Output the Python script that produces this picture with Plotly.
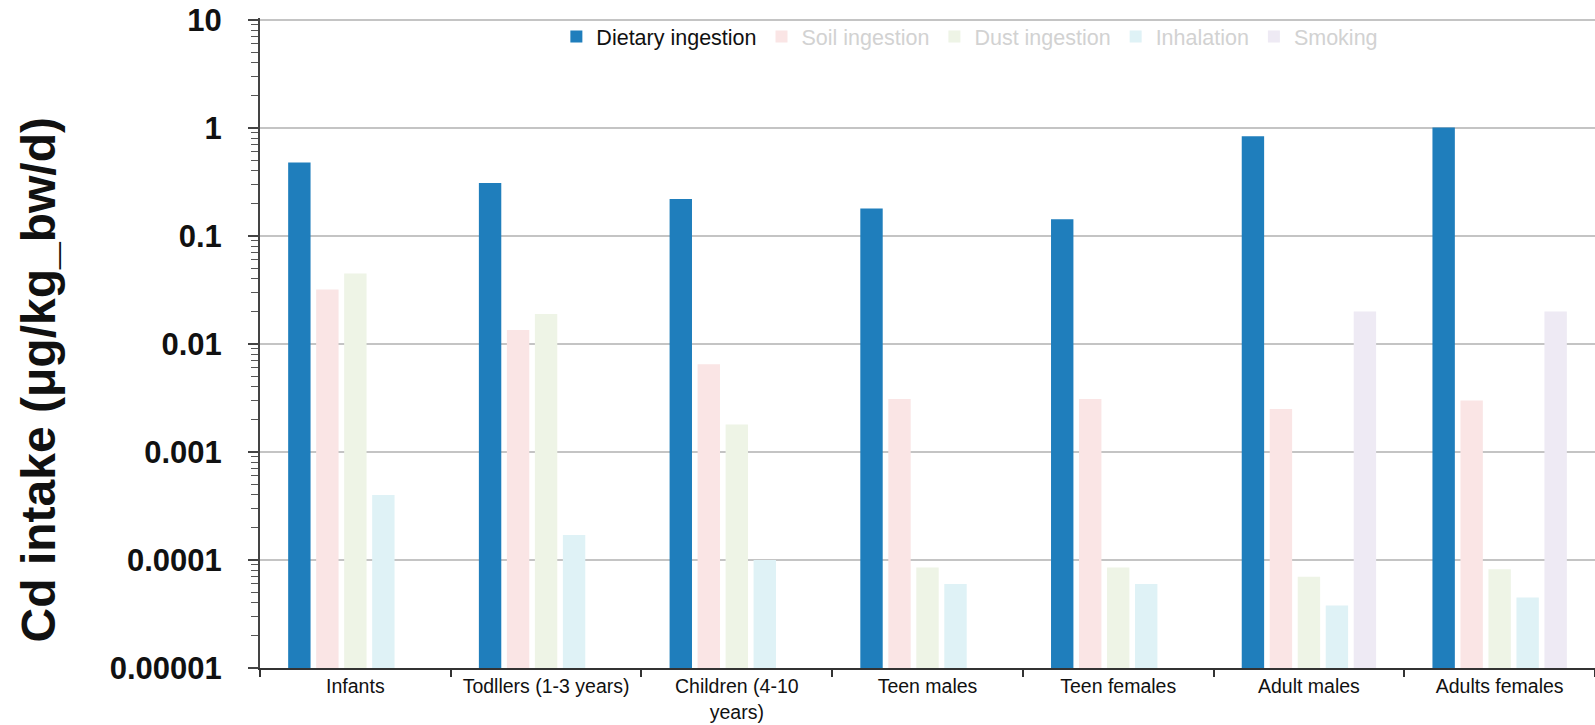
import plotly.graph_objects as go

categories = ["Infants", "Todllers (1-3 years)", "Children (4-10 years)", "Teen males",
              "Teen females", "Adult males", "Adults females"]
tick_labels = ["Infants", "Todllers (1-3 years)", "Children (4-10<br>years)", "Teen males",
               "Teen females", "Adult males", "Adults females"]

dietary = [0.48, 0.31, 0.22, 0.18, 0.143, 0.84, 1.01]
soil = [0.032, 0.0135, 0.0065, 0.0031, 0.0031, 0.0025, 0.003]
dust = [0.045, 0.019, 0.0018, 0.000085, 0.000085, 0.00007, 0.000082]
inhalation = [0.0004, 0.00017, 0.0001, 0.00006, 0.00006, 0.000038, 0.000045]
smoking = [None, None, None, None, None, 0.02, 0.02]

series_names = ["Dietary ingestion", "Soil ingestion", "Dust ingestion", "Inhalation", "Smoking"]
series_values = [dietary, soil, dust, inhalation, smoking]
series_colors = ["#1f7ebc", "#fae5e5", "#eef4e6", "#dff2f6", "#eeeaf4"]
legend_text_colors = ["#111111", "#d2d2d2", "#d2d2d2", "#d2d2d2", "#d2d2d2"]

y_tickvals = [10, 1, 0.1, 0.01, 0.001, 0.0001, 0.00001]
y_ticktext = ["10", "1", "0.1", "0.01", "0.001", "0.0001", "0.00001"]
minor_tickvals = [m * 10.0 ** e for e in range(-5, 1) for m in range(2, 10)]

FONT = "Liberation Sans, Arial, sans-serif"

fig = go.Figure()
for name, vals, col, tcol in zip(series_names, series_values, series_colors, legend_text_colors):
    fig.add_trace(go.Bar(
        x=categories, y=vals,
        name=f"<span style='color:{tcol}'>{name}</span>",
        marker=dict(color=col, line=dict(width=0)),
    ))

fig.update_layout(
    width=1595, height=725,
    margin=dict(l=260, r=0, t=18, b=57, autoexpand=False),
    paper_bgcolor="white", plot_bgcolor="white",
    barmode="group", bargap=0.266, bargroupgap=0.2,
    font=dict(family=FONT, color="#111111"),
    showlegend=True,
    legend=dict(orientation="h", x=0.222, xanchor="left", y=0.9715, yanchor="middle",
                font=dict(family=FONT, size=21.5, color="#111111"),
                bgcolor="rgba(0,0,0,0)", itemclick=False),
    xaxis=dict(
        type="category", tickmode="array", tickvals=categories, ticktext=tick_labels,
        tickson="boundaries", ticks="outside", ticklen=7, tickwidth=2, tickcolor="#333333",
        showline=True, linecolor="#333333", linewidth=2, showgrid=False,
        ticklabelstandoff=0, tickangle=0, automargin=False,
        tickfont=dict(family=FONT, size=19.5, color="#111111"),
    ),
    yaxis=dict(
        type="log", range=[-5, 1.0185],
        tickmode="array", tickvals=y_tickvals, ticktext=y_ticktext,
        ticks="outside", ticklen=10, tickwidth=1.5, tickcolor="#444444",
        ticklabelstandoff=20, automargin=False,
        showline=True, linecolor="#444444", linewidth=2,
        showgrid=True, gridcolor="#c4c4c4", gridwidth=2,
        zeroline=False,
        minor=dict(tickmode="array", tickvals=minor_tickvals, ticks="outside", ticklen=7,
                   tickwidth=1, tickcolor="#555555", showgrid=False),
        tickfont=dict(family=FONT, size=31, color="#111111", weight="bold"),
    ),
    annotations=[dict(
        text="<b>Cd intake (μg/kg_bw/d)</b>", xref="paper", yref="paper",
        x=-0.1663, y=0.444, xanchor="center", yanchor="middle", textangle=-90,
        showarrow=False, font=dict(family=FONT, size=48, color="#111111"),
    )],
)

fig.write_html("out.html")
